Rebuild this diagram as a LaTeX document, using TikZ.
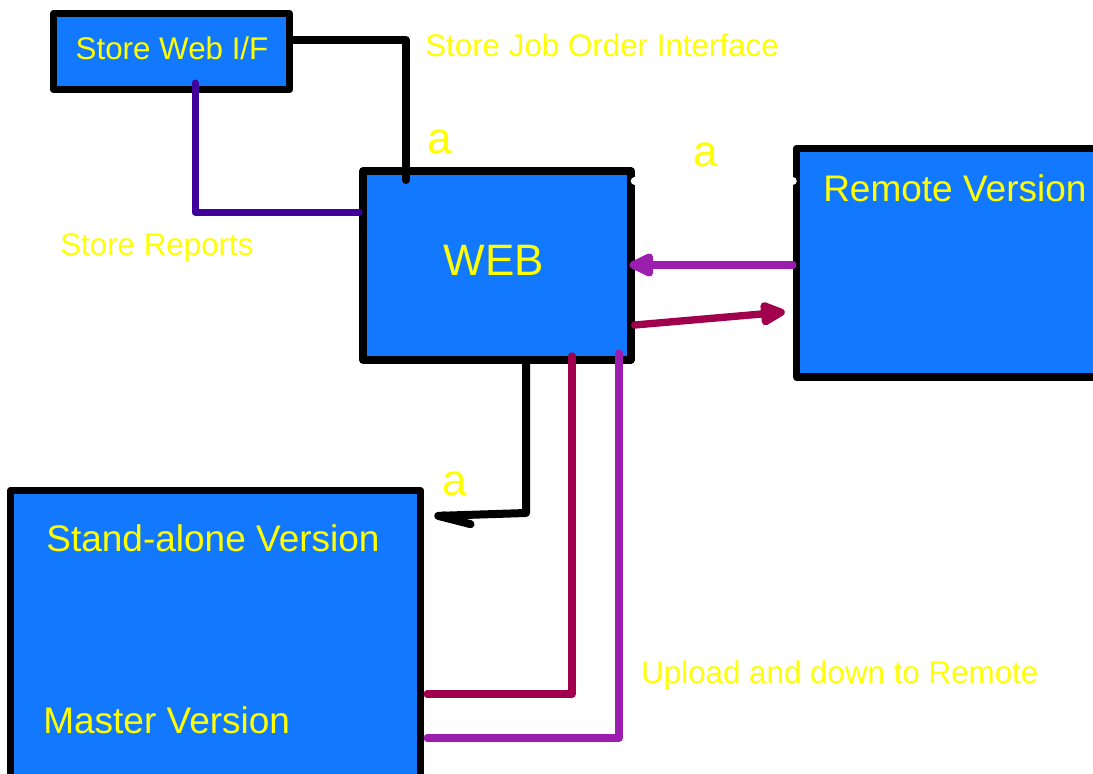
\documentclass[tikz,border=0pt]{standalone}
\usepackage{fontspec}
\setmainfont{Liberation Sans}
\usetikzlibrary{arrows.meta,calc}
\definecolor{boxblue}{RGB}{18,121,255}
\definecolor{ylw}{RGB}{255,255,0}
\definecolor{crim}{RGB}{160,0,76}
\definecolor{purp}{RGB}{155,30,175}
\definecolor{indi}{RGB}{64,0,153}
\tikzset{
  box/.style={draw=black,fill=boxblue,line width=5.6pt,line join=round,rectangle,inner sep=0pt},
  lbl/.style={text=ylw,inner sep=0pt,font=\fontsize{23.5}{28}\selectfont},
  biglbl/.style={text=ylw,inner sep=0pt,font=\fontsize{27.75}{33}\selectfont},
  hugelbl/.style={text=ylw,inner sep=0pt,font=\fontsize{33}{40}\selectfont},
  conn/.style={line width=5.5pt,line cap=round,line join=round},
}
\begin{document}
\begin{tikzpicture}[x=0.75pt,y=-0.75pt]
\useasboundingbox (0,0) rectangle (1093,774);
\clip (0,0) rectangle (1093,774);
% boxes
\node[box,minimum width=177pt,minimum height=57pt] (sweb) at (171.5,51.5) {};
\node[box,minimum width=201pt,minimum height=141.75pt] (web) at (497,265.5) {};
\node[box,minimum width=242.6pt,minimum height=171.4pt] (remote) at (958.25,262.75) {};
\node[box,minimum width=307.5pt,minimum height=232pt] (sa) at (215.5,645.25) {};
% texts
\node[lbl] (tsweb) at (172,48) {Store Web I/F};
\node[hugelbl] (tweb) at (494,260) {WEB};
\node[biglbl,anchor=west] (tremote) at (823,188) {Remote Version};
\node[biglbl] (tsa) at (213,538) {Stand-alone Version};
\node[biglbl,anchor=west] (tmaster) at (43,720) {Master Version};
\node[lbl,anchor=west] (tjob) at (425,45) {Store Job Order Interface};
\node[lbl,anchor=west] (trep) at (60,248) {Store Reports};
\node[lbl,anchor=west] (tup) at (641,675) {Upload and down to Remote};
\node[hugelbl] (a1) at (440,142) {a};
\node[hugelbl] (a2) at (706,155) {a};
\node[hugelbl] (a3) at (455,484) {a};
% connectors
\draw[conn,black,line width=6pt] (sweb.east |- 0,40) -| (406,180);
\draw[conn,indi,line width=5.25pt] (195,83) |- (web.west |- 0,212);
\draw[conn,white,line width=6pt] (web.east |- 0,181) -- (remote.west |- 0,181);
\draw[conn,purp,-{Triangle[length=22pt,width=19pt,round]}] (remote.west |- 0,265) -- ([xshift=-4pt]web.east |- 0,265);
\draw[conn,crim,-{Triangle[length=22pt,width=19pt,round]}] (web.east |- 0,325) -- ([xshift=-6pt]remote.west |- 0,312);
\draw[conn,black,line width=6pt,-{Straight Barb[harpoon,length=24pt,width=14pt,round]}] (526,0 |- web.south) -- (526,513) -- ($(sa.east |- 0,516)+(10,0)$);
\draw[conn,crim] (572,356) |- ($(sa.east |- 0,694)+(3,0)$);
\draw[conn,purp] (619,353) |- ($(sa.east |- 0,738)+(3,0)$);
\end{tikzpicture}
\end{document}
